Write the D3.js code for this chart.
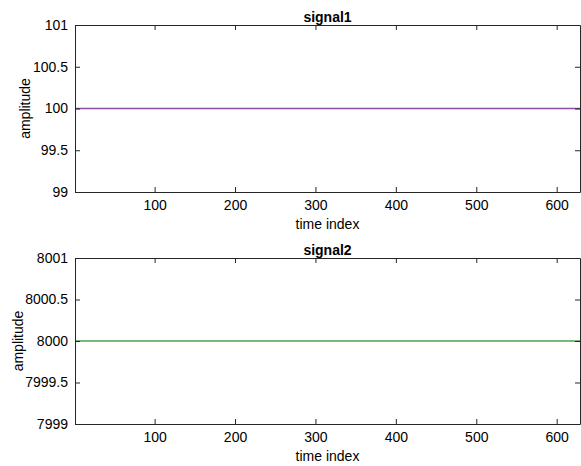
<!DOCTYPE html>
<html>
<head>
<meta charset="utf-8">
<script src="https://cdn.jsdelivr.net/npm/d3@7"></script>
<style>
  html, body { margin: 0; padding: 0; background: #fff; }
  svg { display: block; }
  text { font-family: "Liberation Sans", Arial, sans-serif; fill: #000; }
</style>
</head>
<body>
<div id="chart"></div>
<script>
// ---- data ----
const timeIndex = d3.range(1, 630);            // 1..629
const signal1Value = 100;                       // constant amplitude
const signal2Value = 8000;                      // constant amplitude
const signal1 = timeIndex.map(() => signal1Value);
const signal2 = timeIndex.map(() => signal2Value);
const xTicks = [100, 200, 300, 400, 500, 600];
const y1Ticks = [99, 99.5, 100, 100.5, 101];
const y2Ticks = [7999, 7999.5, 8000, 8000.5, 8001];
const titles = ["signal1", "signal2"];
const colors = ["#8650a6", "#4f9f4f"];

const W = 581, H = 466;
const svg = d3.select("#chart").append("svg").attr("width", W).attr("height", H);

const panels = [
  { title: titles[0], data: signal1, yDomain: [99, 101], yTicks: y1Ticks, color: colors[0], top: 25, bottom: 192, ylabX: 25 },
  { title: titles[1], data: signal2, yDomain: [7999, 8001], yTicks: y2Ticks, color: colors[1], top: 258, bottom: 424, ylabX: 18 }
];
const left = 75, right = 580;
const fmt = d => String(d);

panels.forEach(p => {
  const x = d3.scaleLinear().domain([1, 629]).range([left, right]);
  const y = d3.scaleLinear().domain(p.yDomain).range([p.bottom, p.top]);
  const g = svg.append("g");

  // line
  g.append("path")
    .datum(p.data.map((v, i) => [timeIndex[i], v]))
    .attr("fill", "none")
    .attr("stroke", p.color)
    .attr("stroke-width", 1.5)
    .attr("d", d3.line().x(d => x(d[0])).y(d => y(d[1])));

  // axes with inward ticks
  const ax = (axis) => axis.tickSizeInner(-5).tickSizeOuter(0);
  const bottomAxis = g.append("g").attr("transform", `translate(0,${p.bottom})`)
    .call(ax(d3.axisBottom(x).tickValues(xTicks).tickFormat(fmt)).tickPadding(8));
  const topAxis = g.append("g").attr("transform", `translate(0,${p.top})`)
    .call(ax(d3.axisTop(x).tickValues(xTicks).tickFormat("")));
  const leftAxis = g.append("g").attr("transform", `translate(${left},0)`)
    .call(ax(d3.axisLeft(y).tickValues(p.yTicks).tickFormat(fmt)).tickPadding(7));
  const rightAxis = g.append("g").attr("transform", `translate(${right},0)`)
    .call(ax(d3.axisRight(y).tickValues(p.yTicks).tickFormat("")));

  [bottomAxis, topAxis, leftAxis, rightAxis].forEach(a => {
    a.select(".domain").attr("stroke", "#262626").attr("stroke-width", 1);
    a.selectAll(".tick line").attr("stroke", "#262626");
    a.selectAll("text").attr("font-size", 14).attr("font-family", "Liberation Sans, Arial, sans-serif").attr("fill", "#000");
  });

  // title
  g.append("text")
    .attr("x", (left + right) / 2).attr("y", p.top - 3)
    .attr("text-anchor", "middle")
    .attr("font-size", 14).attr("font-weight", "bold")
    .text(p.title);

  // x label
  g.append("text")
    .attr("x", (left + right) / 2).attr("y", p.bottom + 37)
    .attr("text-anchor", "middle")
    .attr("font-size", 14)
    .text("time index");

  // y label
  g.append("text")
    .attr("transform", `translate(${p.ylabX + 5},${(p.top + p.bottom) / 2}) rotate(-90)`)
    .attr("text-anchor", "middle")
    .attr("font-size", 14)
    .text("amplitude");
});
</script>
</body>
</html>
